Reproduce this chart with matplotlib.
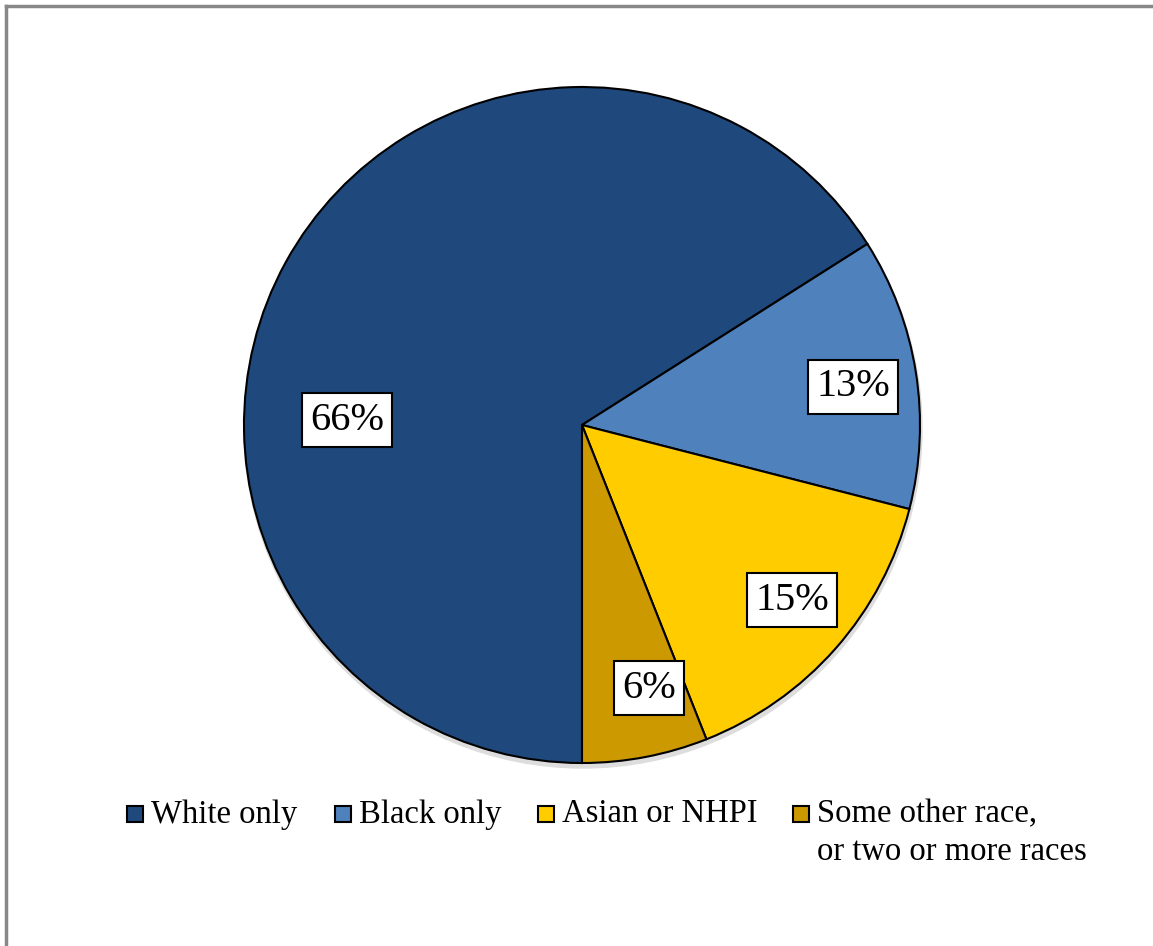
import matplotlib.pyplot as plt
from matplotlib.patches import Rectangle, Circle
from matplotlib.lines import Line2D

# data
labels = ["White only", "Black only", "Asian or NHPI", "Some other race,\nor two or more races"]
values = [66, 13, 15, 6]
colors = ["#1F497D", "#4F81BD", "#FFCC00", "#CC9900"]

W, H = 1153, 946
fig = plt.figure(figsize=(W / 100, H / 100), dpi=100)
ax = fig.add_axes([0, 0, 1, 1])

font = "Liberation Serif"
cx, cy, r = 582, H - 425, 338

# faint shadow under the pie
ax.add_patch(Circle((cx + 1, cy - 4), r + 1, color="#dddddd", zorder=0))

wedges, texts, autotexts = ax.pie(values, colors=colors, startangle=270, counterclock=False,
                                  center=(cx, cy), radius=r, autopct="%.0f%%",
                                  wedgeprops=dict(edgecolor="black", linewidth=1.5),
                                  textprops=dict(fontsize=29, family=font, color="black"),
                                  frame=True)
ax.set_xlim(0, W)
ax.set_ylim(0, H)
ax.set_aspect("equal")
ax.axis("off")

# label positions (Excel best-fit)
label_pos = [(347, 420), (853, 387), (792, 600), (649, 688)]
for t, (x, y) in zip(autotexts, label_pos):
    t.set_position((x, H - y))
    t.set_ha("center")
    t.set_va("center")
    t.set_bbox(dict(boxstyle="square,pad=0.2", facecolor="white", edgecolor="black", linewidth=1.5))

# legend drawn by hand so the swatch sits on the first line
leg_x = [127, 335, 538, 793]
leg_y = H - 814
for x, lab, c in zip(leg_x, labels, colors):
    ax.add_patch(Rectangle((x, leg_y - 8), 16, 16, facecolor=c, edgecolor="black", linewidth=1.5))
    ax.text(x + 24, leg_y + 15, lab, fontsize=23.5, family=font, ha="left", va="top",
            linespacing=1.3)

# outer chart border (cropped on right/bottom)
ax.add_line(Line2D([6, 6], [0, H - 6], color="#888888", linewidth=2.5))
ax.add_line(Line2D([6, W], [H - 6, H - 6], color="#888888", linewidth=2.5))

fig.savefig("out.png", dpi=100)
